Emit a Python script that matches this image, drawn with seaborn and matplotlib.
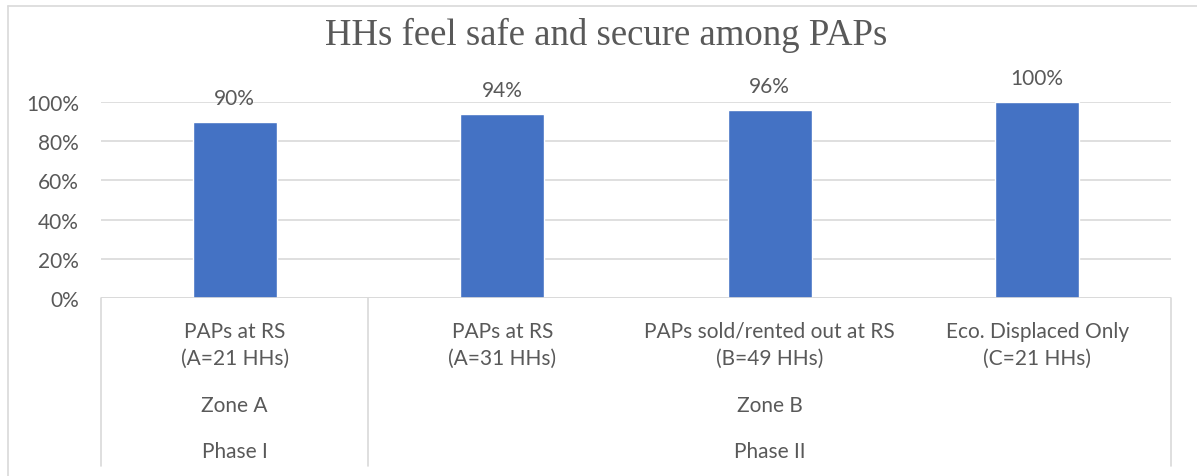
import matplotlib
matplotlib.use("Agg")
import matplotlib.pyplot as plt
import seaborn as sns
import pandas as pd
from matplotlib.lines import Line2D

# data
groups = ["PAPs at RS\n(A=21 HHs)", "PAPs at RS\n(A=31 HHs)",
          "PAPs sold/rented out at RS\n(B=49 HHs)", "Eco. Displaced Only\n(C=21 HHs)"]
shares = [0.90, 0.94, 0.96, 1.00]
zones = ["Zone A", "Zone B"]
zone_span = [(0, 0), (1, 3)]
phases = ["Phase I", "Phase II"]
phase_span = [(0, 0), (1, 3)]
yticks = [0, 0.2, 0.4, 0.6, 0.8, 1.0]

df = pd.DataFrame({"group": groups, "share": shares})

sns.set_theme(style="white")
plt.rcParams["font.family"] = ["Lato", "DejaVu Sans"]

grey = "#595959"
line_grey = "#D9D9D9"
fs = 15
W, H = 1197, 477

fig = plt.figure(figsize=(W / 100, H / 100), dpi=100)
ax = fig.add_axes([101 / W, 1 - 299 / H, (1171 - 101) / W, (299 - 103) / H])

sns.barplot(data=df, x="group", y="share", color="#4472C4", width=0.314,
            saturation=1, ax=ax)

ax.set_ylim(0, 1)
ax.set_xlim(-0.5, len(groups) - 0.5)
ax.set_yticks(yticks)
ax.set_yticklabels([f"{int(round(t * 100))}%" for t in yticks], fontsize=fs, color=grey)
ax.tick_params(axis="y", length=0, pad=16)
ax.yaxis.grid(True, color=line_grey, linewidth=1.2)
ax.set_axisbelow(True)
for s in ax.spines.values():
    s.set_visible(False)
ax.set_xlabel("")
ax.set_ylabel("")

# data labels
for i, v in enumerate(shares):
    ax.annotate(f"{int(round(v * 100))}%", (i, v), xytext=(0, 10), textcoords="offset points",
                ha="center", va="bottom", fontsize=fs, color=grey, annotation_clip=False)

# multi-level category axis
ax.set_xticks(range(len(groups)))
ax.set_xticklabels([])
ax.tick_params(axis="x", length=0)
tr = ax.get_xaxis_transform()
for i, g in enumerate(groups):
    ax.text(i, -0.237, g, transform=tr, ha="center", va="center", fontsize=fs,
            color=grey, linespacing=1.45)
for name, (a, b) in zip(zones, zone_span):
    ax.text((a + b) / 2, -0.546, name, transform=tr, ha="center", va="center",
            fontsize=fs, color=grey)
for name, (a, b) in zip(phases, phase_span):
    ax.text((a + b) / 2, -0.781, name, transform=tr, ha="center", va="center",
            fontsize=fs, color=grey)

for xs in [-0.5, 0.5, len(groups) - 0.5]:
    ax.add_line(Line2D([xs, xs], [0, -0.857], transform=tr, color=line_grey,
                       linewidth=1.2, clip_on=False))
ax.axhline(0, color=line_grey, linewidth=1.2)

fig.text(606 / W, 1 - 35 / H, "HHs feel safe and secure among PAPs", ha="center", va="center",
         fontsize=26.5, color=grey, family=["Liberation Serif", "DejaVu Serif"])

# chart area border
fig.add_artist(Line2D([8 / W, 8 / W], [0, 1 - 7 / H], transform=fig.transFigure,
                      color=line_grey, linewidth=1.2))
fig.add_artist(Line2D([8 / W, 1], [1 - 7 / H, 1 - 7 / H], transform=fig.transFigure,
                      color=line_grey, linewidth=1.2))

fig.savefig("out.png", dpi=100)
